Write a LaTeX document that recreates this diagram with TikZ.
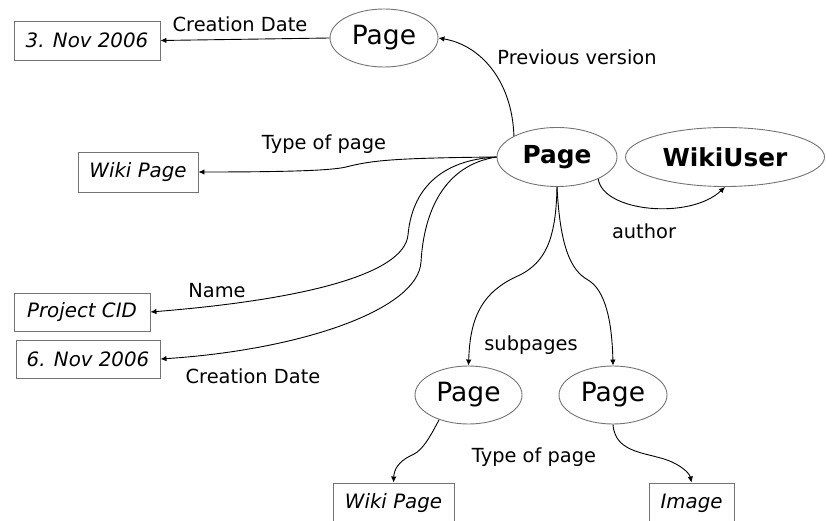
\documentclass[tikz,border=0pt]{standalone}
\usepackage{fontspec}
\setmainfont{DejaVu Sans}
\usetikzlibrary{arrows.meta,shapes.geometric}
\tikzset{
  ell/.style={ellipse, draw=black!55, line width=0.9pt, inner sep=0pt, font=\fontsize{26.5}{30}\selectfont},
  bell/.style={ellipse, draw=black!55, line width=0.9pt, inner sep=0pt, font=\fontsize{24.8}{28}\selectfont\bfseries},
  valbox/.style={rectangle, draw=black!55, line width=0.9pt, inner sep=0pt, font=\fontsize{19.8}{24}\selectfont\itshape},
  lbl/.style={anchor=base, inner sep=0pt, font=\fontsize{19.4}{23}\selectfont},
  arr/.style={line width=0.9pt, -{Latex[length=6pt,width=5.5pt]}},
}
\begin{document}
\begin{tikzpicture}[x=1pt,y=-1pt]
\useasboundingbox (0,0) rectangle (826,521);
\clip (0,0) rectangle (826,521);
% ellipses
\node[ell, minimum width=108pt, minimum height=58pt] (ptop) at (384,38) {Page};
\node[bell, minimum width=120pt, minimum height=59pt] (main) at (557,157) {Page};
\node[bell, minimum width=199pt, minimum height=59pt] (wu) at (725,157) {WikiUser};
\node[ell, minimum width=107pt, minimum height=58pt] (sub1) at (468.5,395) {Page};
\node[ell, minimum width=108pt, minimum height=58pt] (sub2) at (613,395) {Page};
% value boxes
\node[valbox, minimum width=146pt, minimum height=39pt] (d1) at (87,40.5) {3. Nov 2006};
\node[valbox, minimum width=120pt, minimum height=40pt] (wp1) at (138,172) {Wiki Page};
\node[valbox, minimum width=136pt, minimum height=38pt] (pcid) at (82,312) {Project CID};
\node[valbox, minimum width=144pt, minimum height=38pt] (d2) at (88,359) {6. Nov 2006};
\node[valbox, minimum width=121pt, minimum height=40pt] (wp2) at (393.5,503) {Wiki Page};
\node[valbox, minimum width=85pt, minimum height=40pt] (img) at (691.5,503) {Image};
% labels
\node[lbl] (l1) at (240,32) {Creation Date};
\node[lbl] (l2) at (577,65) {Previous version};
\node[lbl] (l3) at (324,150) {Type of page};
\node[lbl] (l4) at (644,238) {author};
\node[lbl] (l5) at (217,297) {Name};
\node[lbl] (l6) at (253,383) {Creation Date};
\node[lbl] (l7) at (531,350) {subpages};
\node[lbl] (l8) at (534,462) {Type of page};
% connectors
\draw[arr] (main.154) .. controls (512,80) and (480,45) .. (ptop.east);
\draw[arr] (ptop.west) -- (d1.east);
\draw[arr] (main.west) .. controls (400,158) and (375,160) .. (350,166) .. controls (340,169) and (320,172) .. (wp1.east);
\draw[arr] (main.west) .. controls (440,160) and (412,190) .. (408,235) .. controls (404,275) and (300,300) .. (pcid.east);
\draw[arr] (main.west) .. controls (445,165) and (424,210) .. (421,262) .. controls (418,310) and (300,350) .. (d2.east);
\draw[arr] (main.-28) .. controls (603,212) and (690,220) .. (wu.south);
\draw[arr] (main.south) .. controls (556,240) and (545,262) .. (520,275) .. controls (480,292) and (470,320) .. (sub1.north);
\draw[arr] (main.south) .. controls (560,245) and (570,270) .. (588,280) .. controls (605,290) and (612,320) .. (sub2.north);
\draw[arr] (sub1.-140) .. controls (426,445) and (420,452) .. (410,456) .. controls (398,462) and (394,470) .. (wp2.north);
\draw[arr] (sub2.south) .. controls (615,455) and (650,452) .. (672,462) .. controls (685,468) and (690,475) .. (img.north);
\end{tikzpicture}
\end{document}
